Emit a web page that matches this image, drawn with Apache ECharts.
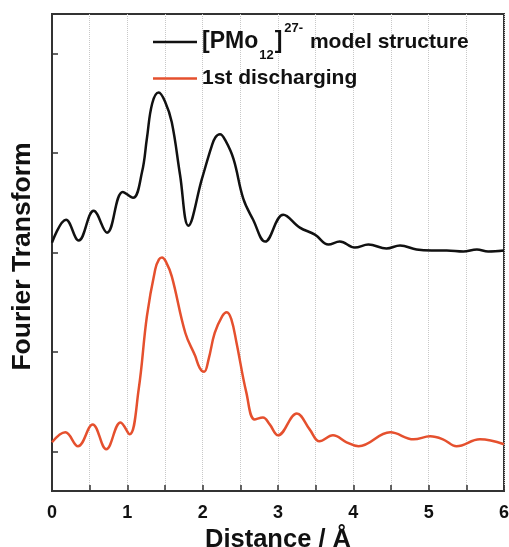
<!DOCTYPE html>
<html>
<head>
<meta charset="utf-8">
<script src="https://cdn.jsdelivr.net/npm/echarts@6/dist/echarts.min.js"></script>
<style>html,body{margin:0;padding:0;background:#fff}#c{width:509px;height:547px}</style>
</head>
<body>
<div id="c"></div>
<script>
// Distance (Å) and Fourier transform magnitude (arbitrary units, offset curves)
const blackX = [0.00,0.186,0.354,0.553,0.73,0.94,1.075,1.195,1.26,1.33,1.416,1.50,1.59,1.70,1.81,1.99,2.12,2.17,2.23,2.30,2.41,2.54,2.67,2.83,3.07,3.29,3.49,3.67,3.82,4.02,4.20,4.44,4.62,4.84,5.04,5.24,5.46,5.64,5.79,6.00];
const blackY = [2.10,2.33,2.12,2.42,2.20,2.61,2.55,2.81,3.15,3.50,3.61,3.52,3.31,2.78,2.27,2.74,3.07,3.16,3.19,3.13,2.94,2.54,2.33,2.11,2.38,2.25,2.18,2.08,2.11,2.05,2.08,2.04,2.07,2.03,2.02,2.02,2.01,2.03,2.01,2.02];
const redX = [0.00,0.177,0.345,0.54,0.72,0.91,1.03,1.15,1.26,1.37,1.42,1.46,1.51,1.59,1.77,1.90,1.96,2.02,2.08,2.16,2.26,2.32,2.38,2.45,2.58,2.69,2.80,2.89,3.00,3.25,3.42,3.55,3.73,3.91,4.07,4.49,4.80,5.02,5.19,5.37,5.68,6.00];
const redY = [0.09,0.19,0.05,0.27,0.02,0.29,0.17,0.62,1.36,1.83,1.93,1.95,1.91,1.76,1.19,0.96,0.84,0.80,0.93,1.19,1.36,1.40,1.33,1.09,0.59,0.32,0.34,0.27,0.16,0.38,0.22,0.10,0.16,0.09,0.05,0.19,0.12,0.15,0.12,0.05,0.12,0.07];
const xTickLabels = [0,1,2,3,4,5,6];
const yTicks = [0,1,2,3,4];
const seriesNames = ['model','discharge'];

const font = "'Liberation Sans', Arial, sans-serif";
const zip = (xs, ys) => xs.map((x, i) => [x, ys[i]]);

const chart = echarts.init(document.getElementById('c'), null, {renderer: 'canvas'});
chart.setOption({
  animation: false,
  backgroundColor: '#fff',
  grid: {left: 52, right: 5, top: 14, bottom: 56, containLabel: false, outerBoundsMode: 'none', show: true, borderColor: '#333', borderWidth: 2, backgroundColor: 'transparent'},
  legend: {
    orient: 'vertical', left: 153, top: 22, padding: 0, itemGap: 6,
    itemWidth: 44, itemHeight: 2.5, icon: 'rect',
    data: seriesNames,
    formatter: function (name) {
      if (name === 'model') return '{a|[PMo}{sub|12}{a|]}{sup|27-}{b| model structure}';
      return '{c|1st discharging}';
    },
    textStyle: {
      color: '#111', fontFamily: font, fontWeight: 'bold', fontSize: 21,
      rich: {
        a: {fontFamily: font, fontWeight: 'bold', fontSize: 23, lineHeight: 40, color: '#111'},
        b: {fontFamily: font, fontWeight: 'bold', fontSize: 21, lineHeight: 40, color: '#111'},
        sub: {fontFamily: font, fontWeight: 'bold', fontSize: 13, lineHeight: 13, verticalAlign: 'bottom', padding: [0, 1, 0, 1], color: '#111'},
        sup: {fontFamily: font, fontWeight: 'bold', fontSize: 13, lineHeight: 13, verticalAlign: 'top', padding: [0, 1, 0, 2], color: '#111'},
        c: {fontFamily: font, fontWeight: 'bold', fontSize: 21, lineHeight: 30, color: '#111'}
      }
    }
  },
  xAxis: {
    type: 'value', min: 0, max: 6, interval: 0.5,
    name: 'Distance / Å', nameLocation: 'middle', nameGap: 33,
    nameTextStyle: {fontFamily: font, fontWeight: 'bold', fontSize: 25.5, color: '#111'},
    axisLine: {show: true, onZero: false, lineStyle: {color: '#333', width: 2}},
    axisTick: {show: true, inside: true, length: 6, lineStyle: {color: '#333', width: 1.5}},
    axisLabel: {customValues: xTickLabels, margin: 13, fontFamily: font, fontWeight: 'bold', fontSize: 18, color: '#111'},
    splitLine: {show: true, lineStyle: {color: '#c8c8c8', type: 'dotted', width: 1}}
  },
  yAxis: {
    type: 'value', min: -0.4, max: 4.4,
    name: 'Fourier Transform', nameLocation: 'middle', nameGap: 16,
    nameTextStyle: {fontFamily: font, fontWeight: 'bold', fontSize: 26.5, color: '#111', padding: [0, 8, 0, 0]},
    axisLine: {show: true, onZero: false, lineStyle: {color: '#333', width: 2}},
    axisTick: {show: true, inside: true, length: 6, customValues: yTicks, lineStyle: {color: '#333', width: 1.5}},
    axisLabel: {show: false},
    splitLine: {show: false}
  },
  series: [
    {name: 'model', type: 'line', data: zip(blackX, blackY), smooth: 0.4, symbol: 'none', lineStyle: {color: '#111', width: 2.5}, itemStyle: {color: '#111'}},
    {name: 'discharge', type: 'line', data: zip(redX, redY), smooth: 0.4, symbol: 'none', lineStyle: {color: '#e5502e', width: 2.5}, itemStyle: {color: '#e5502e'}}
  ]
});
</script>
</body>
</html>
